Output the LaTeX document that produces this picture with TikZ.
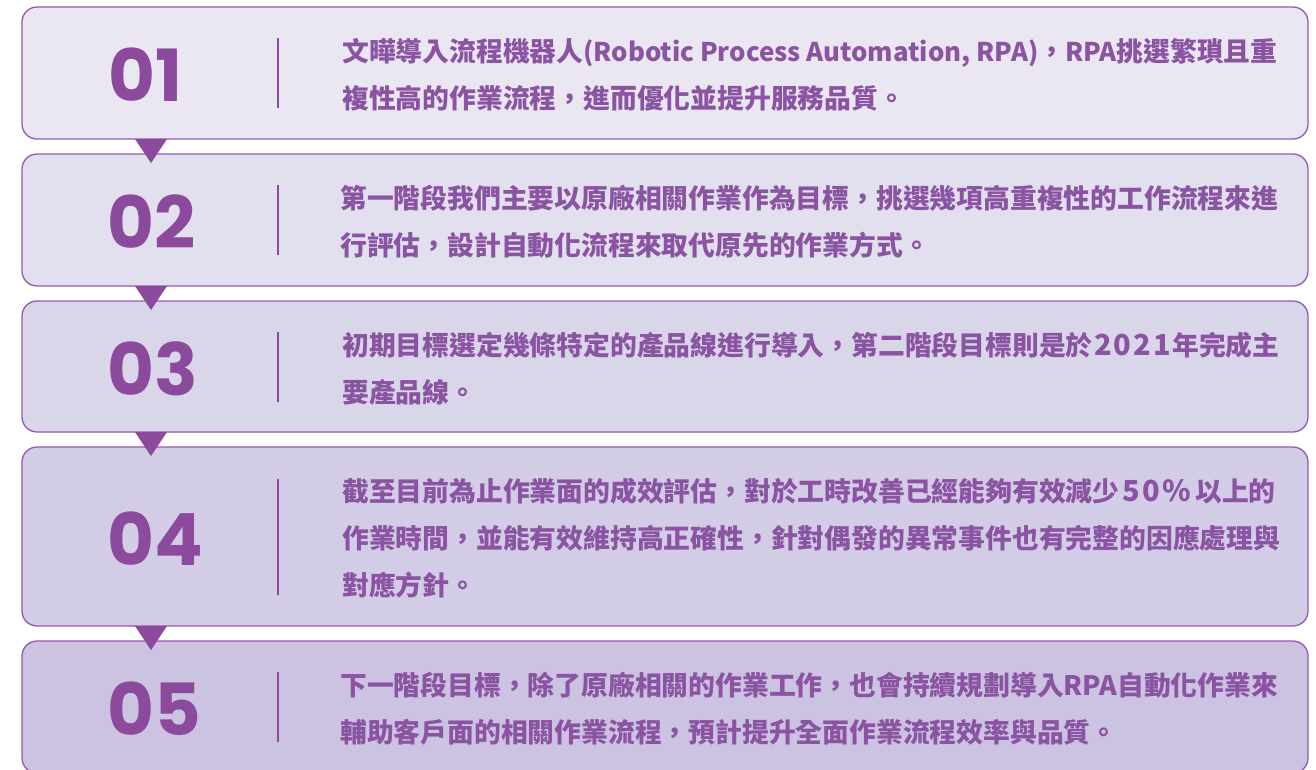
\documentclass[tikz,border=0pt]{standalone}
\usepackage{fontspec}
\usepackage{tikz}
\usetikzlibrary{positioning}
\newfontfamily\cjk{Noto Sans CJK TC}
\newfontfamily\numfont{Poppins}
\usepackage{xcolor}
\definecolor{wtpurple} {RGB} {139,74,156}
\definecolor{wttext} {RGB} {138,84,162}
\definecolor{wtline} {RGB} {150,88,176}
\definecolor{wtfillA} {RGB} {234,231,243}
\definecolor{wtfillB} {RGB} {226,223,238}
\definecolor{wtfillC} {RGB} {218,214,234}
\definecolor{wtfillD} {RGB} {210,204,230}
\definecolor{wtfillE} {RGB} {203,195,225}
\tikzstyle{stage} = [rectangle,draw=wtline,line width=1.3pt,rounded corners=15pt,minimum width=1286pt,minimum height=132pt,inner sep=0pt,outer sep=0pt]
\tikzstyle{num} = [anchor=west,inner sep=0pt,text=wtpurple,font=\numfont\bfseries\fontsize{72}{72}\selectfont]
\tikzstyle{desc} = [anchor=west,inner sep=0pt,align=left,text=wttext,font=\cjk\bfseries\fontsize{26.8}{47}\selectfont]
\tikzstyle{divider} = [draw=wtpurple,line width=1.6pt]
\tikzstyle{pointer} = [fill=wtpurple]
% latin run a bit narrower, digits a bit wider
\newcommand{\latrun}[1]{{\fontsize{25.8}{47}\selectfont #1}}
\newcommand{\digrun}[1]{{\fontsize{29}{47}\selectfont #1}}

\begin{document}
\begin{tikzpicture}[x=1pt,y=-1pt]
  \useasboundingbox (0,0) rectangle (1316,769);

  \node [stage,fill=wtfillA,anchor=north west] (s1) at (22,7) {};
  \node [stage,fill=wtfillB,below=15pt of s1] (s2) {};
  \node [stage,fill=wtfillC,minimum height=131pt,below=15pt of s2] (s3) {};
  \node [stage,fill=wtfillD,minimum height=179pt,below=15pt of s3] (s4) {};
  \node [stage,fill=wtfillE,below=15pt of s4] (s5) {};

  % pointers between the stages
  \foreach \a/\b in {s1/s2,s2/s3,s3/s4,s4/s5}
    \fill [pointer] ([xshift=113pt]\a.south west) -- ++(32,0) -- ++(-16,24) -- cycle;

  \node [num,yshift=-2pt] at ([xshift=86pt]s1.west) (n1) {01};
  \node [num,yshift=-2pt] at ([xshift=85pt]s2.west) (n2) {02};
  \node [num,yshift=-2pt] at ([xshift=85pt]s3.west) (n3) {03};
  \node [num,yshift=-2pt] at ([xshift=85pt]s4.west) (n4) {04};
  \node [num,yshift=-2pt] at ([xshift=85pt]s5.west) (n5) {05};

  \draw [divider] ([xshift=256pt,yshift=35pt]s1.west) -- ([xshift=256pt,yshift=-35pt]s1.west);
  \draw [divider] ([xshift=256pt,yshift=35pt]s2.west) -- ([xshift=256pt,yshift=-35pt]s2.west);
  \draw [divider] ([xshift=256pt,yshift=35pt]s3.west) -- ([xshift=256pt,yshift=-35pt]s3.west);
  \draw [divider] ([xshift=256pt,yshift=58pt]s4.west) -- ([xshift=256pt,yshift=-58pt]s4.west);
  \draw [divider] ([xshift=256pt,yshift=35pt]s5.west) -- ([xshift=256pt,yshift=-35pt]s5.west);

  \node [desc,yshift=-2pt] at ([xshift=320pt]s1.west) (t1) {文曄導入流程機器人\latrun{(Robotic Process Automation, RPA)}，\latrun{RPA}挑選繁瑣且重\\複性高的作業流程，進而優化並提升服務品質。};
  \node [desc,yshift=-2pt] at ([xshift=318pt]s2.west) (t2) {第一階段我們主要以原廠相關作業作為目標，挑選幾項高重複性的工作流程來進\\行評估，設計自動化流程來取代原先的作業方式。};
  \node [desc,yshift=-2pt] at ([xshift=320pt]s3.west) (t3) {初期目標選定幾條特定的產品線進行導入，第二階段目標則是於\kern1.5pt\digrun{2\kern2pt0\kern2pt2\kern2pt1}\kern1.5pt 年完成主\\要產品線。};
  \node [desc,yshift=-2pt] at ([xshift=320pt]s4.west) (t4) {截至目前為止作業面的成效評估，對於工時改善已經能夠有效減少\kern3pt\digrun{5\kern2.5pt0\kern2.5pt\%}\kern4pt 以上的\\作業時間，並能有效維持高正確性，針對偶發的異常事件也有完整的因應處理與\\對應方針。};
  \node [desc,yshift=-2pt] at ([xshift=318pt]s5.west) (t5) {下一階段目標，除了原廠相關的作業工作，也會持續規劃導入RPA自動化作業來\\輔助客戶面的相關作業流程，預計提升全面作業流程效率與品質。};

\end{tikzpicture}
\end{document}
